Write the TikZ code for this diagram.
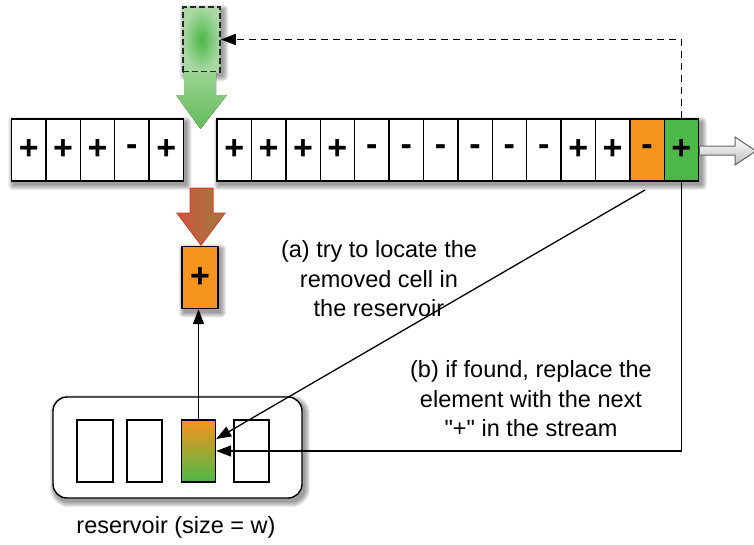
\documentclass[tikz,border=0pt]{standalone}
\usepackage{fontspec}
\setmainfont{Liberation Sans}
\usetikzlibrary{arrows.meta,backgrounds,calc}

\definecolor{cellorange}{HTML}{F7941D}
\definecolor{cellgreen}{HTML}{4DB848}
\definecolor{paleGreen}{HTML}{A9D8A3}
\definecolor{arrowGreen}{HTML}{62BC5A}
\definecolor{arrowGreenLight}{HTML}{9AD392}
\definecolor{arrowRed}{HTML}{CC5440}
\definecolor{arrowOlive}{HTML}{A27C3C}
\definecolor{edgeRed}{HTML}{D8402E}

% soft drop shadow: stacked translucent rectangles, offset down and right
% #1 = base corner radius, #2 = top-left corner, #3 = bottom-right corner
\newcommand\softshade[3][0]{%
  \foreach \k in {0,1,...,5}{%
    \fill[black,opacity=0.075,rounded corners={#1pt+\k pt}]
      ($(#2)+(2.5-\k,3.5-\k)$) rectangle ($(#3)+(2.5+\k,3.5+\k)$);}}

\begin{document}
\begin{tikzpicture}[x=1pt,y=-1pt,
  cell/.style={draw=black,line width=1.4pt,fill=white,
      minimum width=34.4pt,minimum height=62pt,inner sep=0pt,
      font=\fontsize{34}{34}\selectfont\bfseries},
  slot/.style={draw=black,line width=1.3pt,fill=white,
      minimum width=35pt,minimum height=62pt,inner sep=0pt},
  link/.style={draw=black,line width=1.3pt,
      -{Triangle[length=15pt,width=11pt]}},
  note/.style={align=center,font=\fontsize{23.5}{29.5}\selectfont}]

\useasboundingbox (0,0) rectangle (754,544);

% stream of cells, first part
\foreach \s [count=\i] in {+,+,+,-,+}
  \node[cell] (l\i) at ({11.5+(\i-0.5)*34.4},150) {\s};

% stream of cells, second part
\foreach \s [count=\i] in {+,+,+,+,-,-,-,-,-,-,+,+}
  \node[cell] (r\i) at ({217+(\i-0.5)*34.4},150) {\s};
\node[cell,fill=cellorange] (r13) at ({217+12.5*34.4},150) {-};
\node[cell,fill=cellgreen]  (r14) at ({217+13.5*34.4},150) {+};

% outgoing hollow arrow at the end of the stream
\draw[draw=black!60,line width=1pt,top color=white,bottom color=black!25]
  (r14.east |- 0,146) -- (735,146) -- (735,137) -- (756,151)
  -- (735,165) -- (735,155) -- (r14.east |- 0,155) -- cycle;

% incoming element (dashed box)
\node[draw=black!85,line width=1.6pt,dash pattern=on 6pt off 3pt,
      minimum width=37pt,minimum height=65pt,inner sep=0pt,
      shading=radial,inner color=cellgreen,outer color=paleGreen]
      (gbox) at (201.5,39.5) {};

% green block arrow into the stream
\fill[top color=arrowGreenLight,bottom color=arrowGreen]
  (184,72) -- (216,72) -- (216,95) -- (227,95) -- (200.5,129)
  -- (176,95) -- (184,95) -- cycle;

% red block arrow out of the stream
\draw[edgeRed,line width=1pt,left color=arrowRed,right color=arrowOlive]
  (190,188) -- (213,188) -- (213,213) -- (225,213) -- (201,245)
  -- (177,213) -- (190,213) -- cycle;

% removed cell
\node[cell,minimum width=36pt,fill=cellorange] (oc) at (200,277.5) {+};

% reservoir
\node[draw=black,line width=1.4pt,fill=white,rounded corners=14pt,
      minimum width=249pt,minimum height=101pt] (res) at (177.5,447.5) {};
\node[slot,minimum width=36pt] (res1) at (95,451) {};
\node[slot] (res2) at (144.5,451) {};
\node[slot,minimum width=34pt,top color=cellorange,bottom color=cellgreen] (res3) at (198.5,451) {};
\node[slot] (res4) at (251.5,451) {};
\node[font=\fontsize{23.5}{28}\selectfont] (reslabel) at (176,527) {reservoir (size = w)};

% explanations
\node[note] (notea) at (379,279) {(a) try to locate the\\removed cell in\\the reservoir};
\node[note] (noteb) at (531,399) {(b) if found, replace the\\element with the next\\\textquotedbl+\textquotedbl{} in the stream};

% connectors
\coordinate (astart) at (645,190);
\draw[link] (astart) -- ([yshift=12pt]res3.east);
\draw[link] (r14.south) |- (res3.east);
\draw[link] (res3.north) -- (res3.north |- oc.south);
\draw[link,line width=1.5pt,dash pattern=on 7pt off 5pt] (r14.north) |- (gbox.east);

% white canvas and drop shadows, behind everything
\begin{scope}[on background layer]
  \fill[white] (0,0) rectangle (754,544);
  \softshade{l1.north west}{l5.south east}
  \softshade{r1.north west}{r14.south east}
  \softshade{gbox.north west}{gbox.south east}
  \softshade{oc.north west}{oc.south east}
  \softshade[14]{res.north west}{res.south east}
\end{scope}

\end{tikzpicture}
\end{document}
